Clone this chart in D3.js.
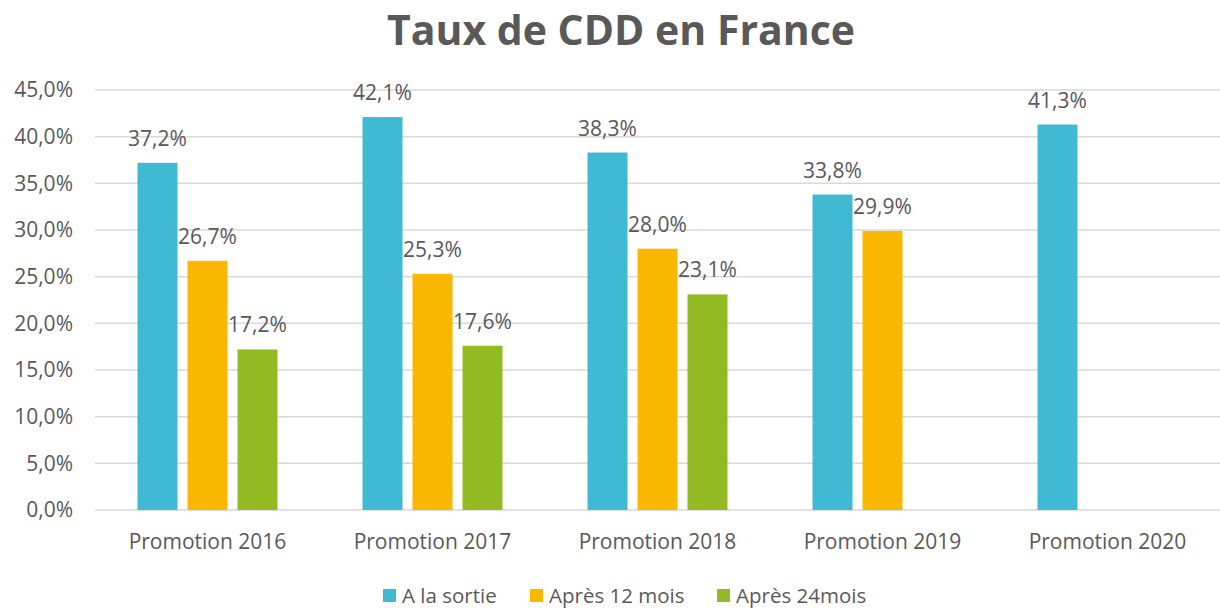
<!DOCTYPE html>
<html>
<head>
<meta charset="utf-8">
<script src="https://cdn.jsdelivr.net/npm/d3@7"></script>
<style>
  body { margin: 0; background: #fff; }
  text { font-family: "Open Sans", sans-serif; fill: #595959; }
</style>
</head>
<body>
<div id="chart"></div>
<script>
const categories = ['Promotion 2016', 'Promotion 2017', 'Promotion 2018', 'Promotion 2019', 'Promotion 2020'];
const seriesNames = ['A la sortie', 'Après 12 mois', 'Après 24mois'];
const sortie = [37.2, 42.1, 38.3, 33.8, 41.3];
const apres12 = [26.7, 25.3, 28.0, 29.9, null];
const apres24 = [17.2, 17.6, 23.1, null, null];
const yTicks = [0, 5, 10, 15, 20, 25, 30, 35, 40, 45];
const colors = ['#40BAD3', '#FBB800', '#92BB23'];

const series = [sortie, apres12, apres24];
const W = 1220, H = 608;
const margin = {top: 90, right: 0, bottom: 98, left: 95};
const width = W - margin.left - margin.right;
const height = H - margin.top - margin.bottom;

const svg = d3.select('#chart').append('svg')
    .attr('width', W)
    .attr('height', H);

svg.append('text')
    .attr('x', 621)
    .attr('y', 45)
    .attr('text-anchor', 'middle')
    .style('font-size', '41px')
    .style('font-weight', 'bold')
    .text('Taux de CDD en France');

const chart = svg.append('g')
    .attr('transform', `translate(${margin.left}, ${margin.top})`);

const x = d3.scaleBand().domain(categories).range([0, width]);
const x1 = d3.scaleBand().domain(seriesNames)
    .range([x.bandwidth() / 2 - 70, x.bandwidth() / 2 + 70])
    .paddingInner(0.2);
const y = d3.scaleLinear().domain([0, 45]).range([height, 0]);

// gridlines
chart.append('g')
    .selectAll('line')
    .data(yTicks)
    .enter()
    .append('line')
    .attr('x1', 0)
    .attr('x2', width)
    .attr('y1', d => y(d))
    .attr('y2', d => y(d))
    .attr('stroke', '#d9d9d9')
    .attr('stroke-width', 1.5);

// y axis labels
const yAxis = chart.append('g')
    .call(d3.axisLeft(y).tickValues(yTicks).tickSize(0).tickPadding(22)
        .tickFormat(d => d.toFixed(1).replace('.', ',') + '%'));
yAxis.select('.domain').remove();
yAxis.selectAll('text')
    .style('font-size', '21px')
    .attr('fill', '#595959');

// x axis labels
const xAxis = chart.append('g')
    .attr('transform', `translate(0, ${height})`)
    .call(d3.axisBottom(x).tickSize(0).tickPadding(24));
xAxis.select('.domain').remove();
xAxis.selectAll('text')
    .style('font-size', '21px')
    .attr('fill', '#595959');

// bars
const rows = [];
categories.forEach((c, i) => {
    series.forEach((s, j) => {
        if (s[i] != null) rows.push({cat: c, name: seriesNames[j], value: s[i], color: colors[j]});
    });
});

chart.selectAll('.bar')
    .data(rows)
    .enter()
    .append('rect')
    .attr('class', 'bar')
    .attr('x', d => x(d.cat) + x1(d.name))
    .attr('y', d => y(d.value))
    .attr('width', x1.bandwidth())
    .attr('height', d => height - y(d.value))
    .attr('fill', d => d.color);

chart.selectAll('.label')
    .data(rows)
    .enter()
    .append('text')
    .attr('class', 'label')
    .attr('x', d => x(d.cat) + x1(d.name) + x1.bandwidth() / 2)
    .attr('y', d => y(d.value) - 17)
    .attr('text-anchor', 'middle')
    .style('font-size', '21px')
    .text(d => d.value.toFixed(1).replace('.', ',') + '%');

// legend
const legendX = [383, 530, 717];
const legend = svg.append('g');
seriesNames.forEach((n, i) => {
    legend.append('rect')
        .attr('x', legendX[i])
        .attr('y', 589)
        .attr('width', 13)
        .attr('height', 13)
        .attr('fill', colors[i]);
    legend.append('text')
        .attr('x', legendX[i] + 19)
        .attr('y', 603)
        .style('font-size', '20.5px')
        .text(n);
});
</script>
</body>
</html>
